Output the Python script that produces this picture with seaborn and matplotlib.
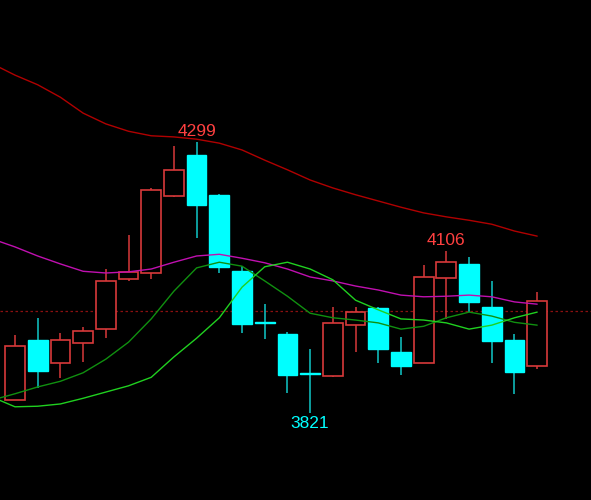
import numpy as np
import pandas as pd
import matplotlib
matplotlib.use("Agg")
import matplotlib.pyplot as plt
import seaborn as sns

# candle data (24 sessions)
opens = [3844, 3950, 3909, 3944, 3969, 4057, 4068, 4204, 4276, 4206, 4072, 3981,
         3960, 3891, 3886, 3976, 4006, 3929, 3909, 4059, 4084, 4008, 3950, 3904]
highs = [3959, 3989, 3962, 3973, 4075, 4135, 4218, 4292, 4299, 4207, 4080, 4013,
         3964, 3934, 4008, 4008, 4008, 3955, 4082, 4106, 4096, 4054, 3960, 4034]
lows = [3844, 3865, 3883, 3911, 3953, 4054, 4057, 4202, 4130, 4068, 3962, 3952,
        3856, 3821, 3884, 3929, 3909, 3888, 3909, 3987, 3999, 3909, 3854, 3899]
closes = [3939, 3895, 3950, 3966, 4054, 4070, 4214, 4250, 4188, 4079, 3978, 3980,
          3888, 3889, 3980, 3999, 3934, 3904, 4061, 4087, 4017, 3948, 3893, 4019]

# moving averages, one value before the first candle plus one per candle
ma5 = [3849, 3832, 3833, 3837, 3847, 3858, 3869, 3884, 3920, 3953, 3989, 4043, 4079,
       4087, 4075, 4056, 4020, 4003, 3987, 3985, 3980, 3969, 3976, 3989, 3999]
ma10 = [3844, 3855, 3867, 3877, 3892, 3916, 3946, 3987, 4036, 4077, 4087, 4080, 4054,
        4027, 3997, 3989, 3985, 3980, 3969, 3974, 3989, 3999, 3992, 3981, 3976]
ma20 = [4128, 4114, 4098, 4084, 4071, 4068, 4070, 4075, 4087, 4098, 4101, 4094, 4086,
        4075, 4061, 4054, 4045, 4038, 4029, 4026, 4027, 4029, 4026, 4017, 4013]
ma60 = [4437, 4417, 4400, 4378, 4350, 4331, 4318, 4310, 4308, 4304, 4297, 4285, 4267,
        4250, 4232, 4218, 4206, 4195, 4184, 4174, 4167, 4161, 4154, 4142, 4133]

ref_level = 4001

RED = "#d8393a"
CYAN = "#00ffff"
CYAN_WICK = "#10c8c8"

# Build frames
df = pd.DataFrame({"open": opens, "high": highs, "low": lows, "close": closes})
df["idx"] = np.arange(len(df))
ma_df = pd.DataFrame({"idx": np.arange(-1, len(df)),
                      "ma5": ma5, "ma10": ma10, "ma20": ma20, "ma60": ma60})

sns.set_style("dark", {"axes.facecolor": "black", "figure.facecolor": "black"})
plt.rcParams["font.family"] = ["Liberation Sans", "DejaVu Sans"]

fig = plt.figure(figsize=(5.91, 5.00), dpi=100)
ax = fig.add_axes([0, 0, 1, 1])
ax.set_facecolor("black")

# reference dotted line
ax.axhline(ref_level, color="#8a1010", lw=0.9, ls=(0, (2, 2)), zorder=1)

# Draw candles
up = df["close"] >= df["open"]
width = 0.87
for _, r in df.iterrows():
    is_up = r["close"] > r["open"]
    col = RED if is_up else CYAN
    wick_col = RED if is_up else CYAN_WICK
    ax.vlines(r["idx"], r["low"], r["high"], color=wick_col, lw=1.1, zorder=2)
    bottom = min(r["open"], r["close"])
    height = max(abs(r["close"] - r["open"]), 1.5)
    if is_up:
        ax.bar(r["idx"], height, bottom=bottom, width=width, facecolor="black",
               edgecolor=RED, linewidth=1.2, zorder=3)
    else:
        ax.bar(r["idx"], height, bottom=bottom, width=width, facecolor=CYAN,
               edgecolor=CYAN, linewidth=1.0, zorder=3)

# Moving average lines
sns.lineplot(data=ma_df, x="idx", y="ma60", color="#b00000", lw=1.0, ax=ax, zorder=4)
sns.lineplot(data=ma_df, x="idx", y="ma20", color="#c010b0", lw=1.0, ax=ax, zorder=4)
sns.lineplot(data=ma_df, x="idx", y="ma10", color="#109010", lw=1.0, ax=ax, zorder=4)
sns.lineplot(data=ma_df, x="idx", y="ma5", color="#20d020", lw=1.0, ax=ax, zorder=4)

# extreme labels
hi_i = int(np.argmax(highs[:12]))
ax.text(hi_i, highs[hi_i] + 6, str(highs[hi_i]), color="#ff4040", fontsize=12.5,
        ha="center", va="bottom", zorder=5)
lo_i = int(np.argmin(lows))
ax.text(lo_i, lows[lo_i] - 6, str(lows[lo_i]), color=CYAN, fontsize=12.5,
        ha="center", va="top", zorder=5)
hi2 = 12 + int(np.argmax(highs[12:]))
ax.text(hi2, highs[hi2] + 6, str(highs[hi2]), color="#ff4040", fontsize=12.5,
        ha="center", va="bottom", zorder=5)

ax.set_xlim(-0.66, 25.37)
ax.set_ylim(3667.6, 4549.5)
ax.set_xticks([])
ax.set_yticks([])
ax.set_xlabel("")
ax.set_ylabel("")
for s in ax.spines.values():
    s.set_visible(False)

plt.savefig("out.png", dpi=100, facecolor="black")
